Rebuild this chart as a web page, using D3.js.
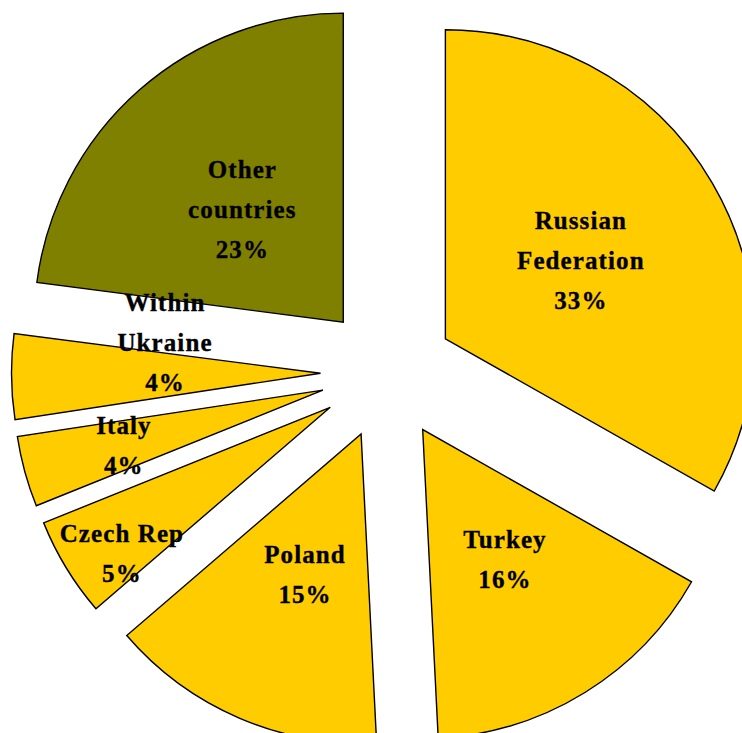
<!DOCTYPE html>
<html>
<head>
<meta charset="utf-8">
<script src="https://cdn.jsdelivr.net/npm/d3@7"></script>
<style>
  html, body { margin: 0; padding: 0; background: #fff; }
  svg { display: block; }
</style>
</head>
<body>
<svg id="chart" width="742" height="733"></svg>
<script>
// ---- data ----
const categories = ["Russian Federation", "Turkey", "Poland", "Czech Rep", "Italy", "Within Ukraine", "Other countries"];
const labelNames = [["Russian", "Federation"], ["Turkey"], ["Poland"], ["Czech Rep"], ["Italy"], ["Within", "Ukraine"], ["Other", "countries"]];
const shares = [33.2, 16.0, 14.5, 5.2, 3.7, 4.45, 22.95];
const sliceColors = ["#FFCC00", "#FFCC00", "#FFCC00", "#FFCC00", "#FFCC00", "#FFCC00", "#808000"];

// ---- label layout (distance from slice apex as fraction of radius, angle shift in degrees) ----
const labelFrac = [0.505, 0.50, 0.49, 0.825, 0.669, 0.513, 0.489];
const labelShift = [0.5, -0.5, -1.5, -3.85, -0.4, 11.8, -0.6];

const W = 742, H = 733;
const cx = 387.5, cy = 372.5;
const R = 309, explode = 67;
const fontSize = 25, lineGap = 40;

const svg = d3.select("#chart");
const g = svg.append("g").attr("transform", `translate(${cx},${cy})`);

const pie = d3.pie().sort(null).value(d => d.v).startAngle(0).endAngle(2 * Math.PI);
const data = categories.map((c, i) => ({ c, v: shares[i], i }));
const arcs = pie(data);
const arc = d3.arc().innerRadius(0).outerRadius(R);

arcs.forEach(a => {
  const mid = (a.startAngle + a.endAngle) / 2;
  const ox = Math.sin(mid) * explode, oy = -Math.cos(mid) * explode;
  const i = a.data.i;
  g.append("path")
    .attr("d", arc(a))
    .attr("transform", `translate(${ox},${oy})`)
    .attr("fill", sliceColors[i])
    .attr("stroke", "#000")
    .attr("stroke-width", 1.4)
    .attr("stroke-linejoin", "miter");
});

arcs.forEach(a => {
  const mid = (a.startAngle + a.endAngle) / 2;
  const i = a.data.i;
  const ox = Math.sin(mid) * explode, oy = -Math.cos(mid) * explode;
  const la = mid + labelShift[i] * Math.PI / 180;
  const lr = labelFrac[i] * R;
  const px = ox + Math.sin(la) * lr, py = oy - Math.cos(la) * lr;
  const lines = labelNames[i].concat([Math.round(a.data.v) + "%"]);
  const n = lines.length;
  const t = g.append("text")
    .attr("text-anchor", "middle")
    .attr("font-family", "'Liberation Serif', 'Times New Roman', serif")
    .attr("font-weight", "bold")
    .attr("font-size", fontSize)
    .attr("letter-spacing", "1.1px")
    .attr("fill", "#000")
    .attr("stroke", "#000")
    .attr("stroke-width", 0.35);
  lines.forEach((ln, k) => {
    t.append("tspan")
      .attr("x", px)
      .attr("y", py + (k - (n - 1) / 2) * lineGap + 8)
      .text(ln);
  });
});
</script>
</body>
</html>
